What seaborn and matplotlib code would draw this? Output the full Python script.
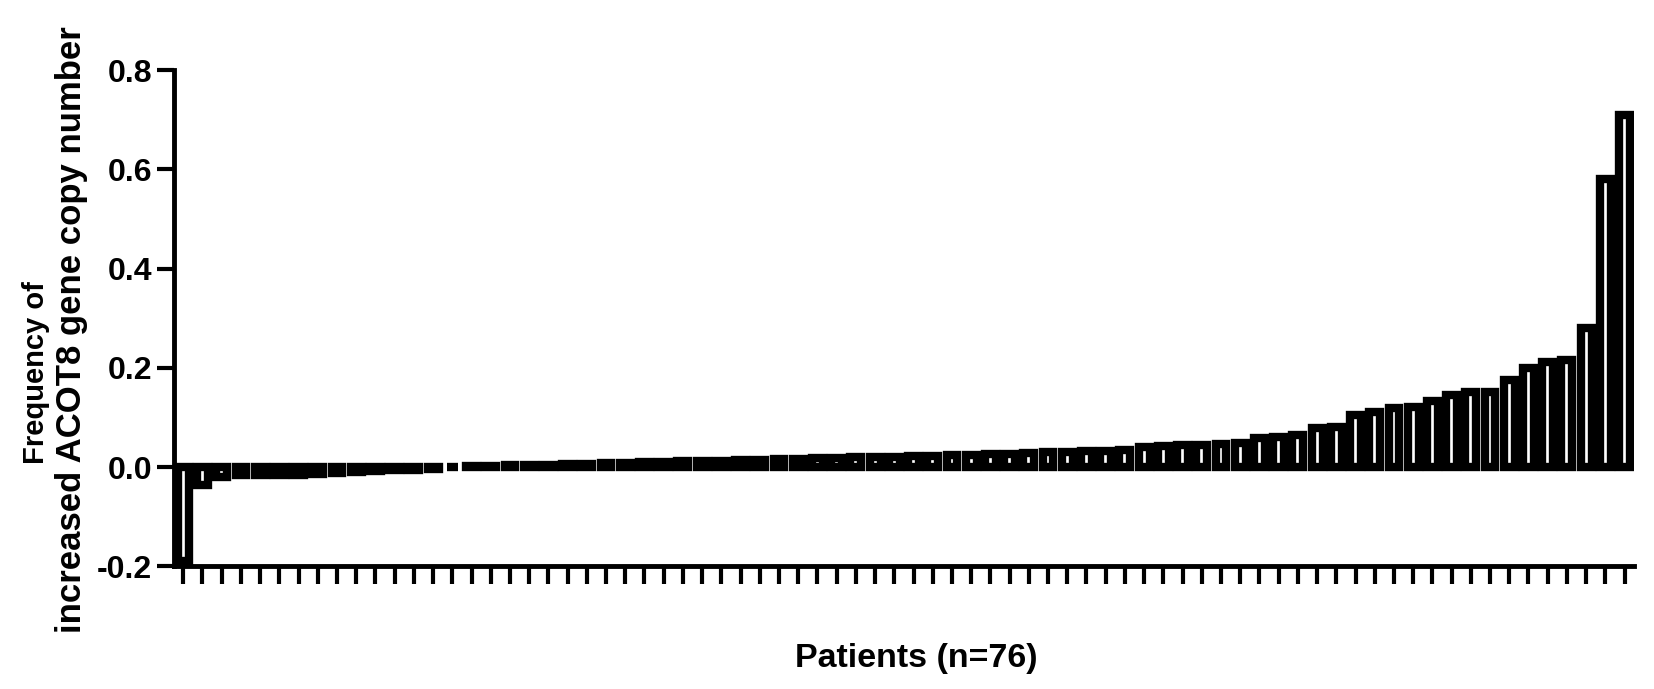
import numpy as np
import pandas as pd
import matplotlib
matplotlib.use("Agg")
import matplotlib.pyplot as plt
import seaborn as sns

# frequency of increased ACOT8 copy number, one value per patient (sorted)
patients = list(range(1, 77))
freq = [
    -0.19, -0.035, -0.02, -0.015, -0.015, -0.015, -0.015, -0.013, -0.012, -0.01,
    -0.008, -0.006, -0.005, -0.004, 0.001, 0.002, 0.003, 0.004, 0.005, 0.005,
    0.006, 0.007, 0.008, 0.009, 0.01, 0.011, 0.012, 0.012, 0.013, 0.014,
    0.015, 0.016, 0.017, 0.018, 0.019, 0.02, 0.02, 0.021, 0.022, 0.023,
    0.024, 0.025, 0.026, 0.027, 0.028, 0.03, 0.031, 0.032, 0.033, 0.034,
    0.04, 0.042, 0.044, 0.045, 0.046, 0.048, 0.058, 0.06, 0.065, 0.078,
    0.08, 0.105, 0.112, 0.12, 0.122, 0.133, 0.145, 0.152, 0.152, 0.175,
    0.2, 0.212, 0.215, 0.28, 0.58, 0.71,
]
yticks = [-0.2, 0.0, 0.2, 0.4, 0.6, 0.8]

df = pd.DataFrame({"patient": patients, "freq": freq})

sns.set_style("ticks")
plt.rcParams["font.family"] = ["Liberation Sans", "DejaVu Sans"]
plt.rcParams["font.weight"] = "bold"
plt.rcParams["text.color"] = "black"
plt.rcParams["xtick.color"] = "black"
plt.rcParams["ytick.color"] = "black"

fig = plt.figure(figsize=(16.54, 6.89), dpi=100)
ax = fig.add_axes([0.105, 0.178, 0.883, 0.72])

sns.barplot(data=df, x="patient", y="freq", color="white", edgecolor="black",
            linewidth=6, width=0.565, saturation=1, ax=ax)

ax.set_xlim(-0.5, 75.5)
ax.set_ylim(-0.2, 0.8)
ax.set_yticks(yticks)
ax.set_yticklabels([f"{t:.1f}" for t in yticks], fontsize=23, fontweight="bold")
ax.set_xticks(range(len(patients)))
ax.set_xticklabels([])
ax.tick_params(axis="x", length=13, width=3, direction="out")
ax.tick_params(axis="y", length=12.5, width=3, direction="out", pad=3)
sns.despine(ax=ax)
for s in ["left", "bottom"]:
    ax.spines[s].set_linewidth(3.5)
    ax.spines[s].set_color("black")
ax.set_xlabel("")
ax.set_ylabel("")

fig.text(0.554, 0.044, "Patients (n=76)", ha="center", va="center",
         fontsize=24.5, fontweight="bold")
fig.text(0.022, 1 - 373 / 689, "Frequency of", rotation=90,
         ha="center", va="center", fontsize=21, fontweight="bold")
fig.text(0.043, 1 - 330 / 689, "increased ACOT8 gene copy number", rotation=90,
         ha="center", va="center", fontsize=25, fontweight="bold")

fig.savefig("out.png", dpi=100, facecolor="white")
